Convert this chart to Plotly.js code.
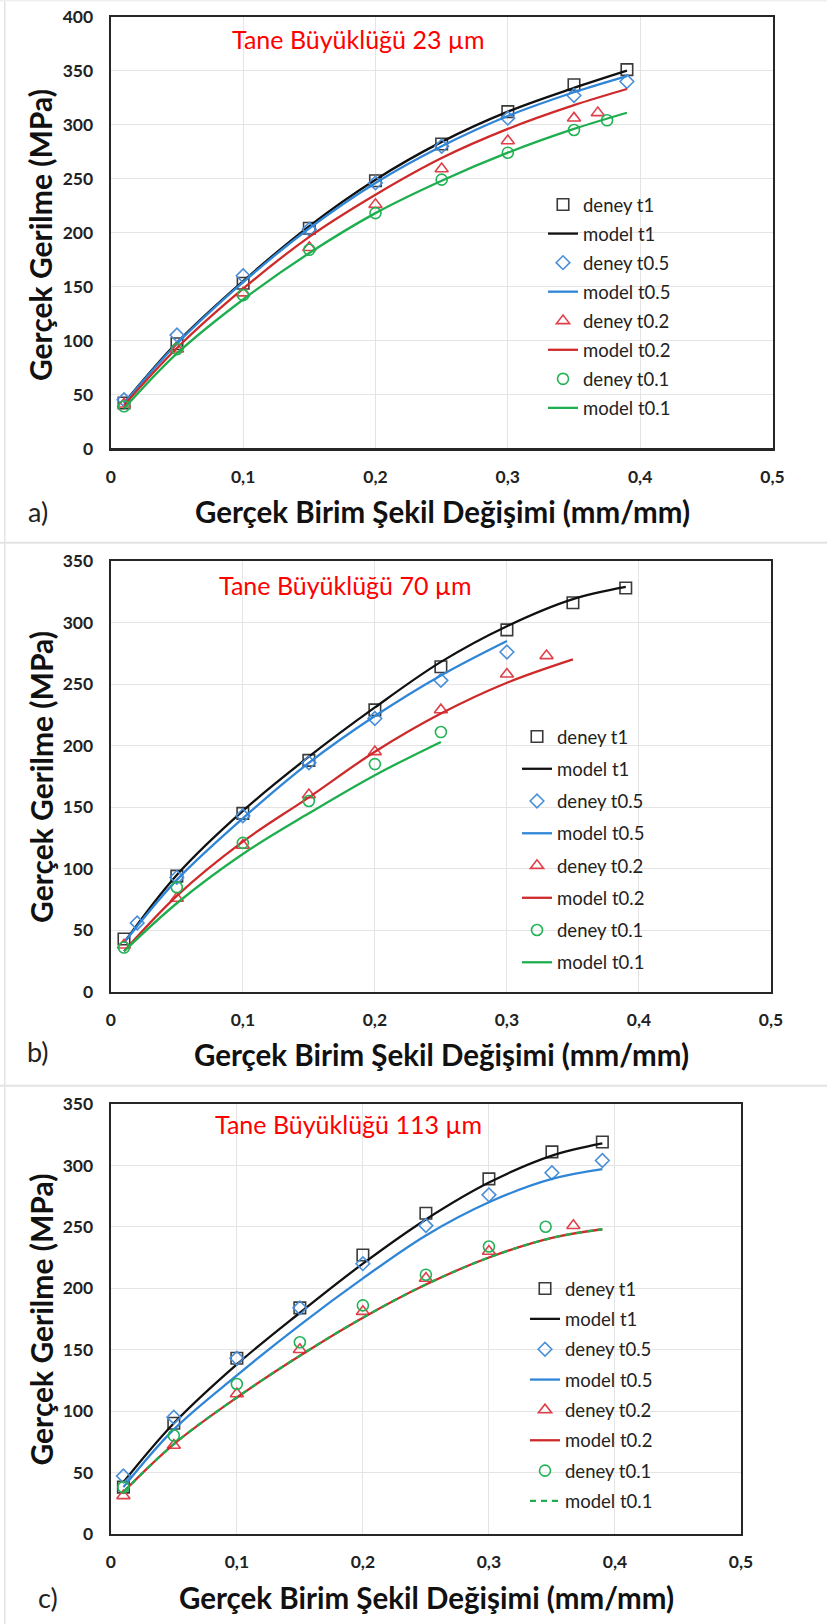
<!DOCTYPE html>
<html>
<head>
<meta charset="utf-8">
<script src="https://cdn.plot.ly/plotly-3.0.1.min.js"></script>
<style>html,body{margin:0;padding:0;background:#fff;}#chart{width:827px;height:1624px;}</style>
</head>
<body>
<div id="chart"></div>
<script>
// ---------- DATA ----------
const xTickVals = [0, 0.1, 0.2, 0.3, 0.4, 0.5];
const xTickText = ['0', '0,1', '0,2', '0,3', '0,4', '0,5'];
const yTickValsA = [0, 50, 100, 150, 200, 250, 300, 350, 400];
const yTickValsBC = [0, 50, 100, 150, 200, 250, 300, 350];

const panelTitles = ['Tane Büyüklüğü 23 µm', 'Tane Büyüklüğü 70 µm', 'Tane Büyüklüğü 113 µm'];
const panelLabels = ['a)', 'b)', 'c)'];
const xTitle = 'Gerçek Birim Şekil Değişimi (mm/mm)';
const yTitle = 'Gerçek Gerilme (MPa)';
const seriesNames = ['deney t1', 'model t1', 'deney t0.5', 'model t0.5', 'deney t0.2', 'model t0.2', 'deney t0.1', 'model t0.1'];

// Panel a (23 µm)
const xA_full = [0.01, 0.05, 0.1, 0.15, 0.2, 0.25, 0.3, 0.35, 0.39];
const deneyA_t1 = [42, 97, 153, 204, 248, 282, 312, 337, 351];
const deneyA_t05 = [45, 105, 160, 203, 246, 280, 306, 327, 340];
const xA_d02 = [0.01, 0.05, 0.1, 0.15, 0.2, 0.25, 0.3, 0.35, 0.368];
const deneyA_t02 = [41, 92, 144, 186, 226, 259, 285, 306, 311];
const xA_d01 = [0.01, 0.05, 0.1, 0.15, 0.2, 0.25, 0.3, 0.35, 0.375];
const deneyA_t01 = [39, 92, 142, 184, 218, 249, 274, 295, 304];
const modelA_t1 = [42, 98, 155, 206, 249, 284, 312, 334, 350];
const modelA_t05 = [42, 97, 154, 204, 246, 280, 308, 330, 345];
const modelA_t02 = [40, 93, 148, 196, 235, 269, 296, 318, 333];
const modelA_t01 = [37, 88, 138, 181, 218, 248, 274, 296, 311];

// Panel b (70 µm)
const xB_full = [0.01, 0.05, 0.1, 0.15, 0.2, 0.25, 0.3, 0.35, 0.39];
const deneyB_t1 = [43, 94, 145, 188, 229, 264, 294, 316, 328];
const xB_d05 = [0.02, 0.05, 0.1, 0.15, 0.2, 0.25, 0.3];
const deneyB_t05 = [56, 93, 143, 186, 222, 253, 276];
const xB_d02 = [0.01, 0.05, 0.1, 0.15, 0.2, 0.25, 0.3, 0.33];
const deneyB_t02 = [38, 76, 119, 160, 195, 229, 258, 273];
const xB_d01 = [0.01, 0.05, 0.1, 0.15, 0.2, 0.25];
const deneyB_t01 = [36, 85, 121, 155, 185, 211];
const modelB_t1 = [40, 95, 147, 191, 231, 268, 297, 319, 329];
const xB_m05 = [0.01, 0.05, 0.1, 0.15, 0.2, 0.25, 0.3];
const modelB_t05 = [40, 91, 141, 186, 224, 257, 285];
const xB_m02 = [0.01, 0.05, 0.1, 0.15, 0.2, 0.25, 0.3, 0.35];
const modelB_t02 = [33, 78, 122, 158, 195, 226, 251, 270];
const xB_m01 = [0.01, 0.05, 0.1, 0.15, 0.2, 0.25];
const modelB_t01 = [33, 72, 112, 145, 176, 203];

// Panel c (113 µm)
const xC_full = [0.01, 0.05, 0.1, 0.15, 0.2, 0.25, 0.3, 0.35, 0.39];
const deneyC_t1 = [38, 90, 143, 184, 227, 261, 289, 311, 319];
const deneyC_t05 = [47, 95, 143, 184, 220, 251, 276, 294, 304];
const xC_d02 = [0.01, 0.05, 0.1, 0.15, 0.2, 0.25, 0.3, 0.367];
const deneyC_t02 = [31, 72, 114, 150, 181, 208, 230, 251];
const xC_d01 = [0.01, 0.05, 0.1, 0.15, 0.2, 0.25, 0.3, 0.345];
const deneyC_t01 = [38, 80, 122, 156, 186, 211, 234, 250];
const modelC_t1 = [42, 90, 138, 180, 220, 256, 286, 308, 318];
const modelC_t05 = [38, 85, 129, 170, 208, 243, 270, 289, 297];
const modelC_t02 = [34, 73, 111, 145, 176, 203, 225, 241, 248];
const modelC_t01 = [34, 73, 111, 145, 176, 203, 225, 241, 248];

// ---------- STYLE ----------
const FONT = 'Lato, "Open Sans", sans-serif';
const W = 827, H = 1624;
const px = v => v / W;
const py = v => 1 - v / H;

const mk = {
  t1: {symbol: 'square-open', color: '#3a3a3a', size: 11.5, line: {width: 1.6}},
  t05: {symbol: 'diamond-open', color: '#4a8fd8', size: 10.5, line: {width: 1.6}},
  t02: {symbol: 'triangle-up-open', color: '#e0404a', size: 11.5, line: {width: 1.6}},
  t01: {symbol: 'circle-open', color: '#22b356', size: 11, line: {width: 1.6}}
};
const ln = {
  t1: {color: '#111111', width: 2.3, shape: 'spline'},
  t05: {color: '#2f86d6', width: 2.3, shape: 'spline'},
  t02: {color: '#cf2a2a', width: 2.3, shape: 'spline'},
  t01: {color: '#1eae4e', width: 2.3, shape: 'spline'}
};

function pts(name, x, y, marker, xa, ya, leg, grp) {
  return {type: 'scatter', mode: 'markers', name, x, y, marker, xaxis: xa, yaxis: ya, legend: leg, legendgroup: grp};
}
function crv(name, x, y, line, xa, ya, leg, grp) {
  return {type: 'scatter', mode: 'lines', name, x, y, line, xaxis: xa, yaxis: ya, legend: leg, legendgroup: grp};
}

const traces = [
  pts(seriesNames[0], xA_full, deneyA_t1, mk.t1, 'x', 'y', 'legend', 'a1'),
  crv(seriesNames[1], xA_full, modelA_t1, ln.t1, 'x', 'y', 'legend', 'a2'),
  pts(seriesNames[2], xA_full, deneyA_t05, mk.t05, 'x', 'y', 'legend', 'a3'),
  crv(seriesNames[3], xA_full, modelA_t05, ln.t05, 'x', 'y', 'legend', 'a4'),
  pts(seriesNames[4], xA_d02, deneyA_t02, mk.t02, 'x', 'y', 'legend', 'a5'),
  crv(seriesNames[5], xA_full, modelA_t02, ln.t02, 'x', 'y', 'legend', 'a6'),
  pts(seriesNames[6], xA_d01, deneyA_t01, mk.t01, 'x', 'y', 'legend', 'a7'),
  crv(seriesNames[7], xA_full, modelA_t01, ln.t01, 'x', 'y', 'legend', 'a8'),

  pts(seriesNames[0], xB_full, deneyB_t1, mk.t1, 'x2', 'y2', 'legend2', 'b1'),
  crv(seriesNames[1], xB_full, modelB_t1, ln.t1, 'x2', 'y2', 'legend2', 'b2'),
  pts(seriesNames[2], xB_d05, deneyB_t05, mk.t05, 'x2', 'y2', 'legend2', 'b3'),
  crv(seriesNames[3], xB_m05, modelB_t05, ln.t05, 'x2', 'y2', 'legend2', 'b4'),
  pts(seriesNames[4], xB_d02, deneyB_t02, mk.t02, 'x2', 'y2', 'legend2', 'b5'),
  crv(seriesNames[5], xB_m02, modelB_t02, ln.t02, 'x2', 'y2', 'legend2', 'b6'),
  pts(seriesNames[6], xB_d01, deneyB_t01, mk.t01, 'x2', 'y2', 'legend2', 'b7'),
  crv(seriesNames[7], xB_m01, modelB_t01, ln.t01, 'x2', 'y2', 'legend2', 'b8'),

  pts(seriesNames[0], xC_full, deneyC_t1, mk.t1, 'x3', 'y3', 'legend3', 'c1'),
  crv(seriesNames[1], xC_full, modelC_t1, ln.t1, 'x3', 'y3', 'legend3', 'c2'),
  pts(seriesNames[2], xC_full, deneyC_t05, mk.t05, 'x3', 'y3', 'legend3', 'c3'),
  crv(seriesNames[3], xC_full, modelC_t05, ln.t05, 'x3', 'y3', 'legend3', 'c4'),
  pts(seriesNames[4], xC_d02, deneyC_t02, mk.t02, 'x3', 'y3', 'legend3', 'c5'),
  crv(seriesNames[5], xC_full, modelC_t02, ln.t02, 'x3', 'y3', 'legend3', 'c6'),
  pts(seriesNames[6], xC_d01, deneyC_t01, mk.t01, 'x3', 'y3', 'legend3', 'c7'),
  crv(seriesNames[7], xC_full, modelC_t01, Object.assign({}, ln.t01, {dash: '6px,5px'}), 'x3', 'y3', 'legend3', 'c8')
];

function xAxis(domain, anchor) {
  return {
    domain, anchor, range: [0, 0.5], tickvals: xTickVals, ticktext: xTickText,
    showgrid: true, gridcolor: '#e4e4e4', gridwidth: 1, zeroline: false,
    showline: true, mirror: true, linecolor: '#262626', linewidth: 2.2,
    ticks: '', ticklabelstandoff: 11,
    tickfont: {family: FONT, size: 17.5, color: '#222', weight: 700}, fixedrange: true
  };
}
function yAxis(domain, anchor, maxV, vals) {
  return {
    domain, anchor, range: [0, maxV], tickvals: vals,
    showgrid: true, gridcolor: '#e4e4e4', gridwidth: 1, zeroline: false,
    showline: true, mirror: true, linecolor: '#262626', linewidth: 2.2,
    ticks: '', ticklabelstandoff: 12,
    tickfont: {family: FONT, size: 17.5, color: '#222', weight: 700}, fixedrange: true
  };
}
function legendAt(left, top, gap) {
  return {
    x: px(left), xanchor: 'left', y: py(top), yanchor: 'top',
    bgcolor: 'rgba(0,0,0,0)', borderwidth: 0, itemwidth: 30,
    tracegroupgap: gap, traceorder: 'grouped',
    font: {family: FONT, size: 18.5, color: '#222'}
  };
}

const annotations = [];
function ann(text, x, y, size, color, weight, angle) {
  annotations.push({text, xref: 'paper', yref: 'paper', x: px(x), y: py(y), xanchor: 'center', yanchor: 'middle',
    showarrow: false, textangle: angle || 0, font: {family: FONT, size, color, weight}});
}
// panel a
ann(panelTitles[0], 358, 39, 25, '#ff0000', 400);
ann(xTitle, 442, 511, 29.5, '#111', 700);
ann(yTitle, 40.5, 235.5, 30, '#111', 700, -90);
ann(panelLabels[0], 37.5, 511, 27, '#222', 400);
// panel b
ann(panelTitles[1], 345.5, 585, 25, '#ff0000', 400);
ann(xTitle, 441, 1054, 29.5, '#111', 700);
ann(yTitle, 40.9, 777, 30, '#111', 700, -90);
ann(panelLabels[1], 38, 1051, 27, '#222', 400);
// panel c
ann(panelTitles[2], 348.5, 1124, 25, '#ff0000', 400);
ann(xTitle, 426, 1597, 29.5, '#111', 700);
ann(yTitle, 40.5, 1320, 30, '#111', 700, -90);
ann(panelLabels[2], 47.5, 1597, 27, '#222', 400);

const sepColor = '#e3e3e3';
const shapes = [
  {type: 'line', xref: 'paper', yref: 'paper', x0: 0, x1: 1, y0: py(542.7), y1: py(542.7), line: {color: sepColor, width: 2}},
  {type: 'line', xref: 'paper', yref: 'paper', x0: 0, x1: 1, y0: py(1085.7), y1: py(1085.7), line: {color: sepColor, width: 2}},
  {type: 'line', xref: 'paper', yref: 'paper', x0: px(4.7), x1: px(4.7), y0: 0, y1: 1, line: {color: sepColor, width: 1.5}},
  {type: 'line', xref: 'paper', yref: 'paper', x0: 0, x1: 1, y0: py(0.7), y1: py(0.7), line: {color: '#efefef', width: 1.5}}
];

const layout = {
  width: W, height: H, autosize: false,
  margin: {l: 0, r: 0, t: 0, b: 0, pad: 0},
  paper_bgcolor: '#ffffff', plot_bgcolor: '#ffffff',
  font: {family: FONT, color: '#222'},
  showlegend: true,
  xaxis: xAxis([px(110.8), px(772.5)], 'y'),
  yaxis: yAxis([py(448.4), py(16.7)], 'x', 400, yTickValsA),
  xaxis2: xAxis([px(110.8), px(771)], 'y2'),
  yaxis2: yAxis([py(991.9), py(560.9)], 'x2', 350, yTickValsBC),
  xaxis3: xAxis([px(110.8), px(741)], 'y3'),
  yaxis3: yAxis([py(1533.8), py(1104)], 'x3', 350, yTickValsBC),
  legend: legendAt(543, 186, 2.0),
  legend2: legendAt(517, 718, 5.2),
  legend3: legendAt(525, 1270, 3.3),
  annotations, shapes
};

Plotly.newPlot('chart', traces, layout, {displayModeBar: false, staticPlot: true});
</script>
</body>
</html>
